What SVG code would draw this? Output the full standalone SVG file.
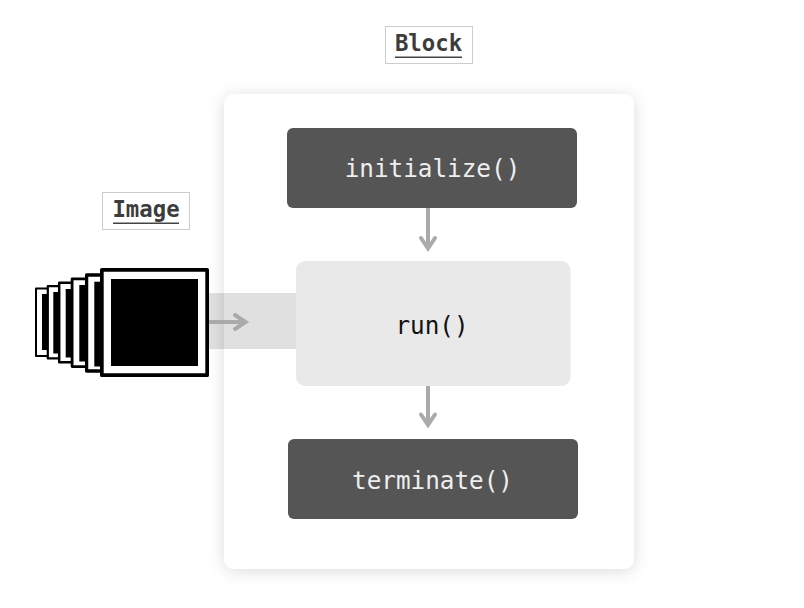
<svg xmlns="http://www.w3.org/2000/svg" width="804" height="608" viewBox="0 0 804 608">
<style>
text{font-family:"DejaVu Sans Mono","Liberation Mono",monospace;text-anchor:middle}
.dark{fill:#555}
.fn{font-size:24.300px;fill:#eee}
.lbox{fill:#fff;stroke:#ccc;stroke-width:1}
.ltxt{font-size:22.300px;font-weight:700;fill:#3c3c3c}
.lline{stroke:#444;stroke-width:1.500}
.conn{fill:none;stroke:#aaa;stroke-width:4}
.head{fill:none;stroke:#aaa;stroke-width:4;stroke-linecap:round;stroke-linejoin:miter}
.frame{fill:#fff;stroke:#000;stroke-linejoin:round}
</style>
<defs>
<filter id="sh" x="-15%" y="-15%" width="130%" height="130%"><feDropShadow dx="0" dy="2" stdDeviation="8" flood-color="#000" flood-opacity="0.14"/></filter>
</defs>
<rect width="804" height="608" fill="#fff"/>
<g id="block-panel"><rect x="224" y="94" width="410" height="475" rx="11" fill="#fff" filter="url(#sh)"/></g>
<g id="block-label">
<rect class="lbox" x="385.500" y="26.500" width="87" height="37"/>
<text class="ltxt" x="428.500" y="51">Block</text>
<line class="lline" x1="395" y1="57.200" x2="462" y2="57.200"/>
</g>
<g id="image-label">
<rect class="lbox" x="102.500" y="192.500" width="87" height="37"/>
<text class="ltxt" x="146" y="217">Image</text>
<line class="lline" x1="113" y1="223.200" x2="179" y2="223.200"/>
</g>
<g id="image-band"><rect x="209" y="293" width="87" height="56" fill="#000" fill-opacity="0.12"/></g>
<g id="run"><rect x="296" y="261" width="274.500" height="125" rx="9" fill="#e9e9e9"/>
<text class="fn" x="432" y="334" style="fill:#111">run()</text></g>
<g id="initialize"><rect class="dark" x="287" y="128" width="290" height="80" rx="6"/>
<text class="fn" x="432.500" y="177">initialize()</text></g>
<g id="terminate"><rect class="dark" x="288" y="439" width="290" height="80" rx="6"/>
<text class="fn" x="432.500" y="489">terminate()</text></g>
<g id="connectors">
<line class="conn" x1="428" y1="208" x2="428" y2="247"/>
<path class="head" d="M421 238L428 248.500L435 238"/>
<line class="conn" x1="428" y1="386" x2="428" y2="424"/>
<path class="head" d="M421 414.500L428 425L435 414.500"/>
<line class="conn" x1="209" y1="322" x2="244" y2="322"/>
<path class="head" d="M235 315L245.500 322L235 329"/>
</g>
<g id="image-stack">
<rect class="frame" stroke-width="2" x="36" y="288.500" width="68" height="67.500"/><rect x="42" y="294" width="56" height="56"/>
<rect class="frame" stroke-width="2.200" x="47.800" y="286.100" width="72" height="72.300"/><rect x="53.300" y="292" width="61" height="61.500"/>
<rect class="frame" stroke-width="2.500" x="59.200" y="282.700" width="80" height="79.500"/><rect x="65.700" y="289" width="68" height="68.500"/>
<rect class="frame" stroke-width="2.800" x="72.100" y="278.900" width="88" height="87.700"/><rect x="79.300" y="285" width="76" height="76.500"/>
<rect class="frame" stroke-width="3.300" x="86.600" y="275" width="96" height="96"/><rect x="94.300" y="281.700" width="84" height="84.800"/>
<rect class="frame" stroke-width="3.700" x="101.850" y="269.850" width="105.300" height="105.300"/><rect x="111" y="279" width="87" height="87"/>
</g>
</svg>
